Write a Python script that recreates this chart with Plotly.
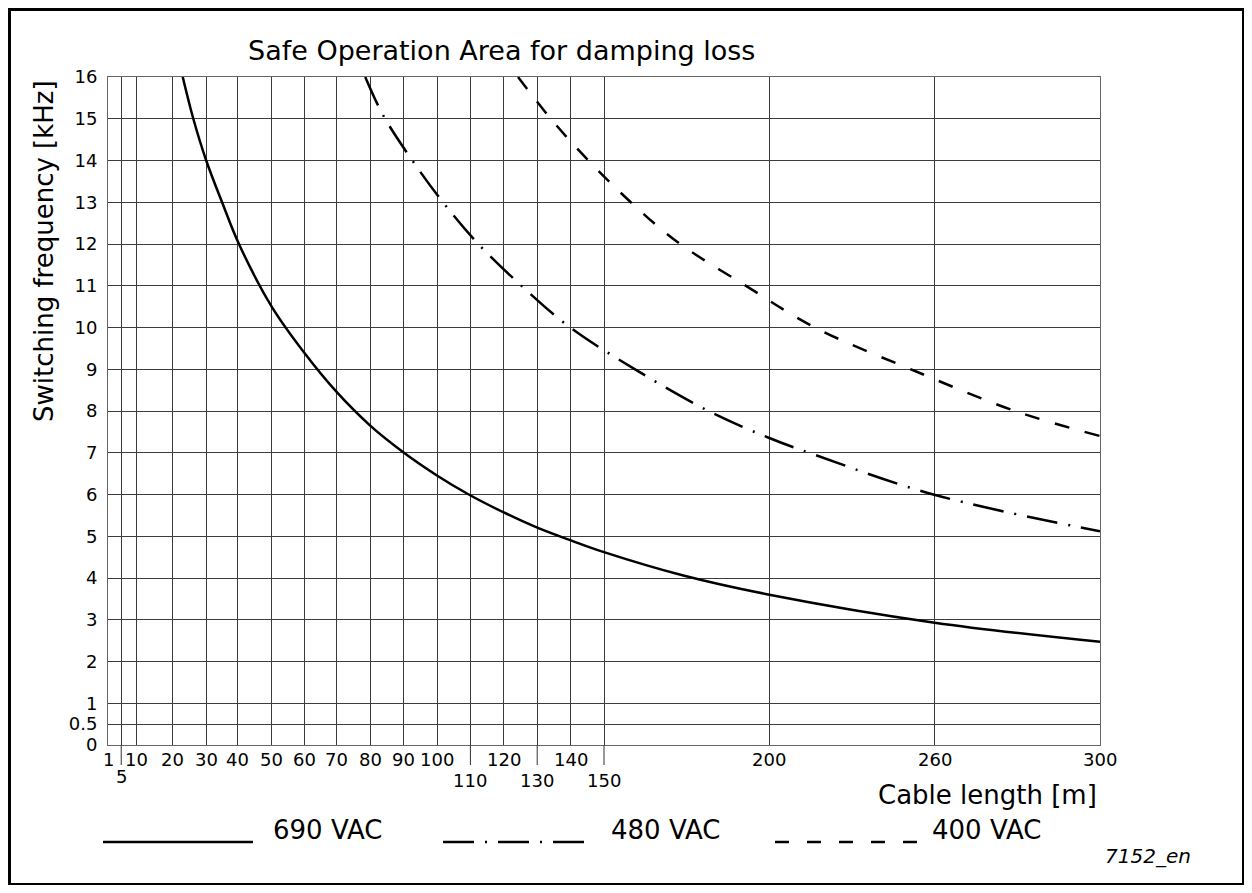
import plotly.graph_objects as go

# ---------------- data ----------------
x_tick_labels = ["1", "5", "10", "20", "30", "40", "50", "60", "70", "80", "90",
                 "100", "110", "120", "130", "140", "150", "200", "260", "300"]
x_tick_pos = [0, 4.0, 8.5, 19.5, 29.8, 39.1, 49.5, 59.3, 69.2, 79.3, 89.5,
              99.6, 109.6, 119.7, 129.8, 140, 150, 200, 250, 300]
x_tick_row = [1, 2, 1, 1, 1, 1, 1, 1, 1, 1, 1, 1, 2, 1, 2, 1, 2, 1, 1, 1]

y_tick_vals = [0, 0.5, 1, 2, 3, 4, 5, 6, 7, 8, 9, 10, 11, 12, 13, 14, 15, 16]
y_tick_text = ["0", "0.5", "1", "2", "3", "4", "5", "6", "7", "8", "9", "10",
               "11", "12", "13", "14", "15", "16"]

len_690 = [22.6, 25.8, 29.7, 34.5, 39.6, 49.5, 59.3, 69.2, 79.3, 89.5, 99.6,
           109.1, 119.7, 130, 140, 150, 174, 200, 250, 300]
f_690 = [16, 15, 14, 13, 12, 10.5, 9.4, 8.45, 7.65, 7.0, 6.45,
         6.0, 5.57, 5.2, 4.9, 4.62, 4.06, 3.6, 2.93, 2.47]

len_480 = [77.8, 83.1, 91.6, 101, 112, 125.3, 139.8, 160.4, 182.1, 199.8, 213.8, 249.6, 300]
f_480 = [16, 15.1, 14.05, 13.03, 12, 10.98, 10, 8.95, 7.98, 7.36, 6.95, 6.0, 5.12]

len_400 = [124, 133.9, 145.3, 157.7, 172, 193.3, 213.8, 244.6, 274.3, 300]
f_400 = [16, 15, 14, 13.03, 12.06, 10.98, 10, 8.94, 8, 7.4]

series_names = ["690 VAC", "480 VAC", "400 VAC"]

# ---------------- layout helpers ----------------
FIG_W, FIG_H = 1236, 877
ML, MR, MT, MB = 100, 144, 69, 140
PW = FIG_W - ML - MR
PH = FIG_H - MT - MB
OFF = 8  # page offset (body margin)


def px(page_x):
    return (page_x - OFF - ML) / PW


def py(page_y):
    return (FIG_H - MB - (page_y - OFF)) / PH


FONT = "DejaVu Sans"
CURVE_W = 2.5
DASHDOT = "31px,11px,2px,11px"
DASHED = "15px,16px"
SMOOTH = 1.0

fig = go.Figure()
fig.add_trace(go.Scatter(x=len_690, y=f_690, mode="lines", name=series_names[0],
                         line=dict(color="black", width=CURVE_W, shape="spline", smoothing=SMOOTH)))
fig.add_trace(go.Scatter(x=len_480, y=f_480, mode="lines", name=series_names[1],
                         line=dict(color="black", width=CURVE_W, shape="spline", smoothing=SMOOTH,
                                   dash=DASHDOT)))
fig.add_trace(go.Scatter(x=len_400, y=f_400, mode="lines", name=series_names[2],
                         line=dict(color="black", width=CURVE_W, shape="spline", smoothing=SMOOTH,
                                   dash=DASHED)))

annotations = []
shapes = []

# x tick labels (two rows)
for lab, pos, row in zip(x_tick_labels, x_tick_pos, x_tick_row):
    if row == 1:
        top = 747
    else:
        top = 764 if lab == "5" else 768
    annotations.append(dict(x=pos, xref="x", y=py(top), yref="paper", text=lab,
                            showarrow=False, xanchor="center", yanchor="top",
                            font=dict(family=FONT, size=18, color="black")))
    if row == 2:
        shapes.append(dict(type="line", xref="x", yref="paper", x0=pos, x1=pos,
                           y0=0, y1=py(765), line=dict(color="#333", width=1)))

# title
annotations.append(dict(x=px(246), y=py(51), xref="paper", yref="paper",
                        text="Safe Operation Area for damping loss", showarrow=False,
                        xanchor="left", yanchor="middle",
                        font=dict(family=FONT, size=27, color="black")))
# axis titles
annotations.append(dict(x=px(1099), y=py(795), xref="paper", yref="paper",
                        text="Cable length [m]", showarrow=False,
                        xanchor="right", yanchor="middle",
                        font=dict(family=FONT, size=26, color="black")))
annotations.append(dict(x=px(44), y=py(78), xref="paper", yref="paper",
                        text="Switching frequency [kHz]", showarrow=False, textangle=-90,
                        xanchor="center", yanchor="top",
                        font=dict(family=FONT, size=26, color="black")))

# legend
leg_items = [
    (series_names[0], 103, 253, None, 271),
    (series_names[1], 443, 586, DASHDOT, 609),
    (series_names[2], 775, 919, "14px,18px", 930),
]
for name, x0, x1, dash, tx in leg_items:
    ln = dict(color="black", width=CURVE_W)
    if dash:
        ln["dash"] = dash
    shapes.append(dict(type="line", xref="paper", yref="paper", x0=px(x0), x1=px(x1),
                       y0=py(842), y1=py(842), line=ln))
    annotations.append(dict(x=px(tx), y=py(830), xref="paper", yref="paper", text=name,
                            showarrow=False, xanchor="left", yanchor="middle",
                            font=dict(family=FONT, size=26, color="black")))

annotations.append(dict(x=px(1103), y=py(856), xref="paper", yref="paper",
                        text="<i>7152_en</i>", showarrow=False, xanchor="left", yanchor="middle",
                        font=dict(family=FONT, size=20, color="black")))

# outer frame
shapes.append(dict(type="rect", xref="paper", yref="paper", x0=px(9.5), x1=px(1243.5),
                   y0=py(884.5), y1=py(9.5), line=dict(color="black", width=3)))

GRID = "#3c3c3c"
fig.update_layout(
    width=FIG_W, height=FIG_H,
    margin=dict(l=ML, r=MR, t=MT, b=MB, pad=0),
    paper_bgcolor="white", plot_bgcolor="white",
    showlegend=False,
    xaxis=dict(range=[0, 300], tickmode="array", tickvals=x_tick_pos, showticklabels=False,
               showgrid=True, gridcolor=GRID, gridwidth=1, zeroline=False,
               showline=True, linecolor="#666", linewidth=1, mirror=True, ticks=""),
    yaxis=dict(range=[0, 16], tickmode="array", tickvals=y_tick_vals, ticktext=y_tick_text,
               showgrid=True, gridcolor=GRID, gridwidth=1, zeroline=False,
               showline=True, linecolor="#666", linewidth=1, mirror=True, ticks="",
               ticklabelstandoff=6,
               tickfont=dict(family=FONT, size=18, color="black")),
    annotations=annotations,
    shapes=shapes,
)

fig.write_html("out.html")
